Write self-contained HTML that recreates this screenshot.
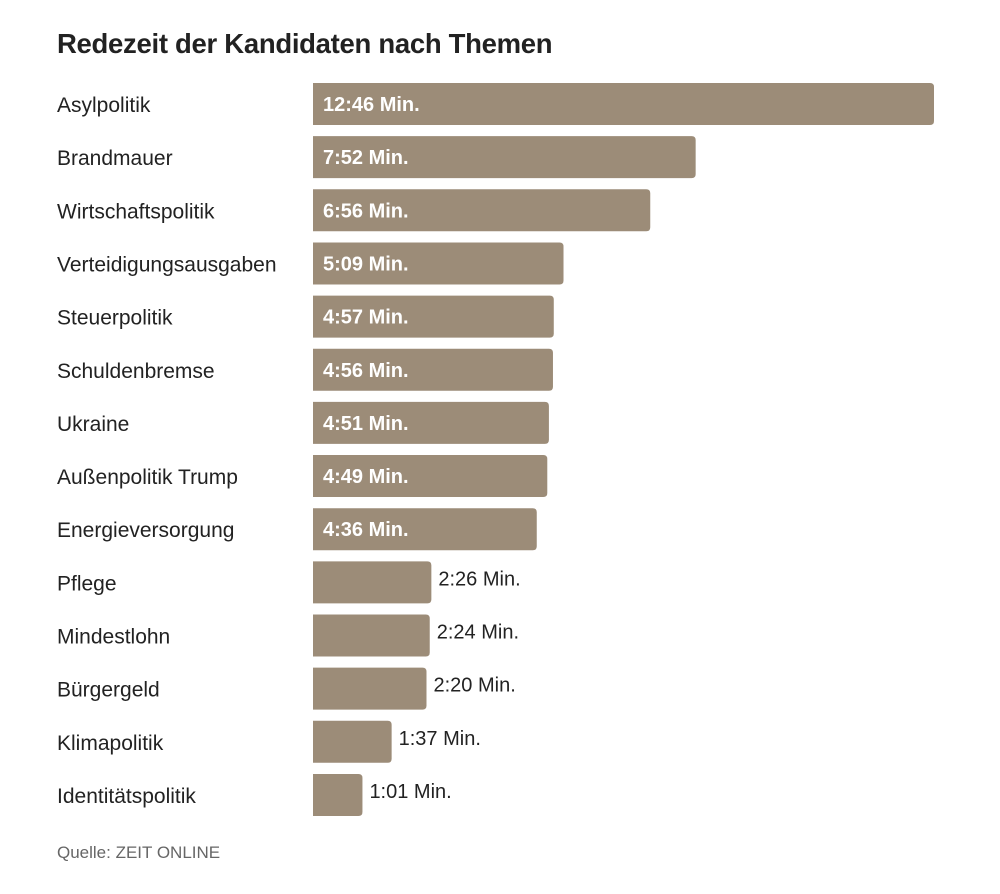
<!DOCTYPE html>
<html><head><meta charset="utf-8">
<style>
body{margin:0;width:1000px;height:894px;background:#fff;font-family:"Liberation Sans",sans-serif;position:relative;overflow:hidden}
#title{position:absolute;left:57px;top:28px;font-size:27.5px;font-weight:bold;color:#222;letter-spacing:-0.3px}
#src{position:absolute;left:57px;top:843px;font-size:17px;color:#666}
</style></head><body>
<div id="title">Redezeit der Kandidaten nach Themen</div>
<svg id="chart" width="1000" height="894" style="position:absolute;left:0;top:0"></svg>
<div id="src">Quelle: ZEIT ONLINE</div>
<script>
const categories=["Asylpolitik","Brandmauer","Wirtschaftspolitik","Verteidigungsausgaben","Steuerpolitik","Schuldenbremse","Ukraine","Außenpolitik Trump","Energieversorgung","Pflege","Mindestlohn","Bürgergeld","Klimapolitik","Identitätspolitik"];
const seconds=[766,472,416,309,297,296,291,289,276,146,144,140,97,61];
const valueLabels=["12:46 Min.","7:52 Min.","6:56 Min.","5:09 Min.","4:57 Min.","4:56 Min.","4:51 Min.","4:49 Min.","4:36 Min.","2:26 Min.","2:24 Min.","2:20 Min.","1:37 Min.","1:01 Min."];
const svg=document.getElementById('chart');
const NS='http://www.w3.org/2000/svg';
const x0=313,x1=934,maxV=766;
const xs=v=>v/maxV*(x1-x0);
const yTop=i=>83+i*53.15;
const bh=42,r=4;
categories.forEach((c,i)=>{
  const w=xs(seconds[i]),y=yTop(i);
  const p=document.createElementNS(NS,'path');
  p.setAttribute('d',`M${x0},${y}H${x0+w-r}Q${x0+w},${y} ${x0+w},${y+r}V${y+bh-r}Q${x0+w},${y+bh} ${x0+w-r},${y+bh}H${x0}Z`);
  p.setAttribute('fill','#9c8c78');
  
  
  svg.appendChild(p);
  const t=document.createElementNS(NS,'text');
  t.textContent=c;t.setAttribute('x',57);t.setAttribute('y',y+bh/2+8);
  t.setAttribute('font-size','21');t.setAttribute('fill','#222');
  
  
  svg.appendChild(t);
  const v=document.createElementNS(NS,'text');
  v.textContent=valueLabels[i];
  v.setAttribute('font-size','20');
  if(w>200){v.setAttribute('x',x0+10);v.setAttribute('y',y+bh/2+7);v.setAttribute('fill','#fff');v.setAttribute('font-weight','bold');}
  else{v.setAttribute('x',x0+w+7);v.setAttribute('y',y+bh/2+3);v.setAttribute('fill','#222');}
  
  
  svg.appendChild(v);
});
</script>
</body></html>
